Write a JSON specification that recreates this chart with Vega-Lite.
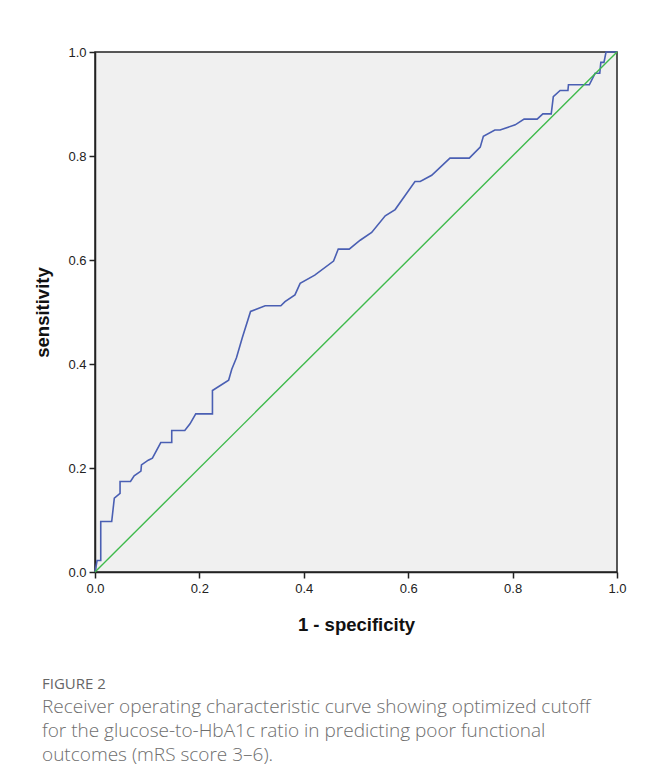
{
  "$schema": "https://vega.github.io/schema/vega-lite/v6.json",
  "width": 522,
  "height": 520,
  "autosize": {"type": "none"},
  "padding": {"left": 95, "top": 52, "right": 31, "bottom": 203},
  "background": "white",
  "config": {
    "view": {"fill": "#f0f0f0", "stroke": "#222222", "strokeWidth": 1.5},
    "axis": {
      "grid": false,
      "labelFont": "Liberation Sans",
      "labelFontSize": 13,
      "labelColor": "#222222",
      "labelFlush": false,
      "labelOverlap": false,
      "titleFont": "Liberation Sans",
      "titleFontSize": 18.5,
      "titleFontWeight": "bold",
      "titleColor": "#111111",
      "tickColor": "#222222",
      "tickSize": 6,
      "tickWidth": 1.5,
      "domainColor": "#222222",
      "domainWidth": 1.5,
      "labelPadding": 3
    }
  },
  "title": {
    "text": "FIGURE 2",
    "subtitle": [
      "Receiver operating characteristic curve showing optimized cutoff",
      "for the glucose-to-HbA1c ratio in predicting poor functional",
      "outcomes (mRS score 3–6)."
    ],
    "orient": "bottom",
    "anchor": "start",
    "frame": "group",
    "dx": -53,
    "offset": 43,
    "font": "Open Sans",
    "fontSize": 15,
    "fontWeight": "normal",
    "color": "#666666",
    "subtitleFont": "Open Sans",
    "subtitleFontSize": 19,
    "subtitleFontWeight": 300,
    "subtitleColor": "#6e6e6e",
    "subtitleLineHeight": 24,
    "subtitlePadding": 6
  },
  "layer": [
    {
      "data": {
        "values": [
          {"fpr": 0, "sens": 0},
          {"fpr": 0.004, "sens": 0.022},
          {"fpr": 0.011, "sens": 0.022},
          {"fpr": 0.011, "sens": 0.097},
          {"fpr": 0.032, "sens": 0.097},
          {"fpr": 0.037, "sens": 0.142},
          {"fpr": 0.048, "sens": 0.151},
          {"fpr": 0.048, "sens": 0.174},
          {"fpr": 0.068, "sens": 0.174},
          {"fpr": 0.075, "sens": 0.185},
          {"fpr": 0.088, "sens": 0.194},
          {"fpr": 0.089, "sens": 0.206},
          {"fpr": 0.102, "sens": 0.215},
          {"fpr": 0.110, "sens": 0.219},
          {"fpr": 0.126, "sens": 0.249},
          {"fpr": 0.147, "sens": 0.249},
          {"fpr": 0.147, "sens": 0.272},
          {"fpr": 0.172, "sens": 0.272},
          {"fpr": 0.182, "sens": 0.285},
          {"fpr": 0.193, "sens": 0.304},
          {"fpr": 0.225, "sens": 0.304},
          {"fpr": 0.225, "sens": 0.349},
          {"fpr": 0.256, "sens": 0.369},
          {"fpr": 0.262, "sens": 0.390},
          {"fpr": 0.271, "sens": 0.412},
          {"fpr": 0.282, "sens": 0.450},
          {"fpr": 0.298, "sens": 0.501},
          {"fpr": 0.326, "sens": 0.512},
          {"fpr": 0.356, "sens": 0.512},
          {"fpr": 0.364, "sens": 0.520},
          {"fpr": 0.383, "sens": 0.533},
          {"fpr": 0.393, "sens": 0.555},
          {"fpr": 0.421, "sens": 0.571},
          {"fpr": 0.457, "sens": 0.598},
          {"fpr": 0.466, "sens": 0.621},
          {"fpr": 0.487, "sens": 0.621},
          {"fpr": 0.508, "sens": 0.638},
          {"fpr": 0.530, "sens": 0.653},
          {"fpr": 0.556, "sens": 0.685},
          {"fpr": 0.575, "sens": 0.697},
          {"fpr": 0.613, "sens": 0.751},
          {"fpr": 0.623, "sens": 0.751},
          {"fpr": 0.645, "sens": 0.763},
          {"fpr": 0.680, "sens": 0.796},
          {"fpr": 0.717, "sens": 0.796},
          {"fpr": 0.738, "sens": 0.817},
          {"fpr": 0.744, "sens": 0.838},
          {"fpr": 0.766, "sens": 0.850},
          {"fpr": 0.776, "sens": 0.850},
          {"fpr": 0.805, "sens": 0.860},
          {"fpr": 0.822, "sens": 0.871},
          {"fpr": 0.847, "sens": 0.871},
          {"fpr": 0.858, "sens": 0.881},
          {"fpr": 0.874, "sens": 0.881},
          {"fpr": 0.878, "sens": 0.914},
          {"fpr": 0.891, "sens": 0.926},
          {"fpr": 0.906, "sens": 0.926},
          {"fpr": 0.907, "sens": 0.937},
          {"fpr": 0.947, "sens": 0.937},
          {"fpr": 0.958, "sens": 0.959},
          {"fpr": 0.967, "sens": 0.959},
          {"fpr": 0.969, "sens": 0.980},
          {"fpr": 0.975, "sens": 0.980},
          {"fpr": 0.979, "sens": 1.0},
          {"fpr": 1.0, "sens": 1.0}
        ]
      },
      "mark": {"type": "line", "color": "#4a5fb3", "strokeWidth": 1.6},
      "encoding": {
        "x": {
          "field": "fpr",
          "type": "quantitative",
          "scale": {"domain": [0, 1], "nice": false, "zero": false},
          "axis": {"title": "1 - specificity", "values": [0, 0.2, 0.4, 0.6, 0.8, 1.0], "format": ".1f", "titlePadding": 20, "labelPadding": 4}
        },
        "y": {
          "field": "sens",
          "type": "quantitative",
          "scale": {"domain": [0, 1], "nice": false, "zero": false},
          "axis": {"title": "sensitivity", "values": [0, 0.2, 0.4, 0.6, 0.8, 1.0], "format": ".1f", "titlePadding": 15}
        },
        "order": [{"field": "sens", "type": "quantitative"}, {"field": "fpr", "type": "quantitative"}]
      }
    },
    {
      "data": {"values": [{"fpr": 0, "sens": 0}, {"fpr": 1, "sens": 1}]},
      "mark": {"type": "line", "color": "#3fba4c", "strokeWidth": 1.4},
      "encoding": {
        "x": {"field": "fpr", "type": "quantitative"},
        "y": {"field": "sens", "type": "quantitative"}
      }
    }
  ]
}
